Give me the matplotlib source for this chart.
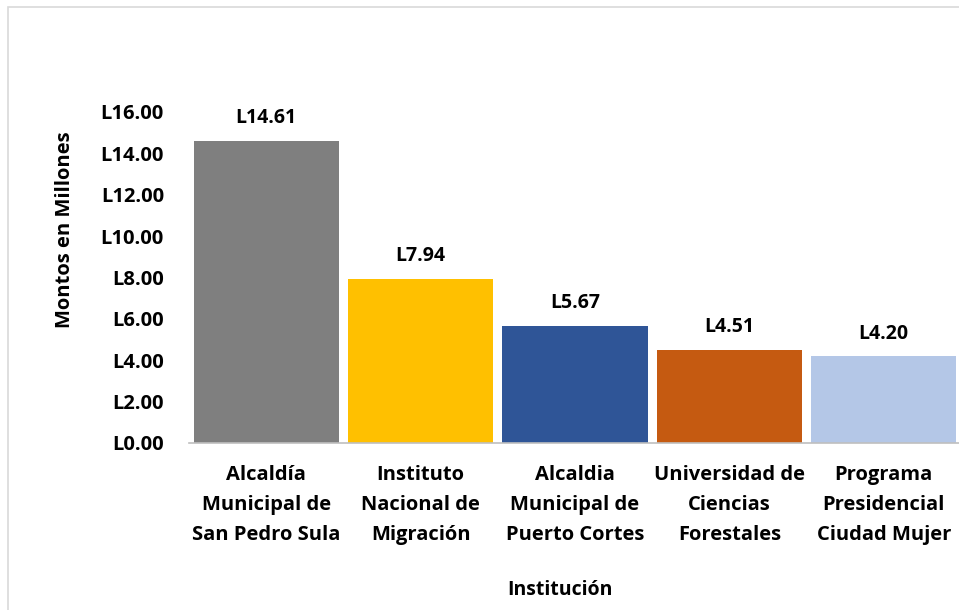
import matplotlib.pyplot as plt
from matplotlib.patches import Rectangle

# Datos
instituciones = ["Alcaldía\nMunicipal de\nSan Pedro Sula",
                 "Instituto\nNacional de\nMigración",
                 "Alcaldia\nMunicipal de\nPuerto Cortes",
                 "Universidad de\nCiencias\nForestales",
                 "Programa\nPresidencial\nCiudad Mujer"]
montos = [14.61, 7.94, 5.67, 4.51, 4.20]
colores = ["#7F7F7F", "#FFC000", "#2F5597", "#C55A11", "#B4C7E7"]
yticks = [0, 2, 4, 6, 8, 10, 12, 14, 16]

plt.rcParams['font.family'] = ['Open Sans', 'DejaVu Sans']
plt.rcParams['font.weight'] = 'bold'
fs = 14

fig = plt.figure(figsize=(9.59, 6.10), dpi=100)
ax = fig.add_axes([189/959, 167/610, 772/959, 331/610])

x = range(len(montos))
bars = ax.bar(x, montos, width=0.94, color=colores)

for xi, v in zip(x, montos):
    ax.annotate("L%.2f" % v, (xi, v), xytext=(0, 9), textcoords="offset points",
                ha="center", va="bottom", fontsize=fs, fontweight="bold")

ax.set_xlim(-0.5, 4.5)
ax.set_ylim(0, 16)
ax.set_yticks(yticks)
ax.set_yticklabels(["L%.2f" % t for t in yticks], fontsize=14.5, fontweight="bold")
ax.set_xticks(list(x))
ax.set_xticklabels(instituciones, fontsize=14.5, fontweight="bold", linespacing=1.65)
ax.tick_params(axis="both", length=0)
ax.tick_params(axis="x", pad=16)
ax.tick_params(axis="y", pad=18)

for s in ["top", "right", "left"]:
    ax.spines[s].set_visible(False)
ax.spines["bottom"].set_color("#BFBFBF")
ax.spines["bottom"].set_linewidth(1.2)

fig.text(65/959, 1 - 230/610, "Montos en Millones", rotation=90, ha="center", va="center",
         fontsize=14.5, fontweight="bold")
fig.text(560/959, 1 - 590/610, "Institución", ha="center", va="center",
         fontsize=14, fontweight="bold")

# borde del area del grafico
fig.patches.append(Rectangle((8/959, -0.1), 1.1, 1 - 7/610 + 0.1, transform=fig.transFigure,
                             fill=False, edgecolor="#D9D9D9", linewidth=1.2))

plt.savefig("out.png", dpi=100)
